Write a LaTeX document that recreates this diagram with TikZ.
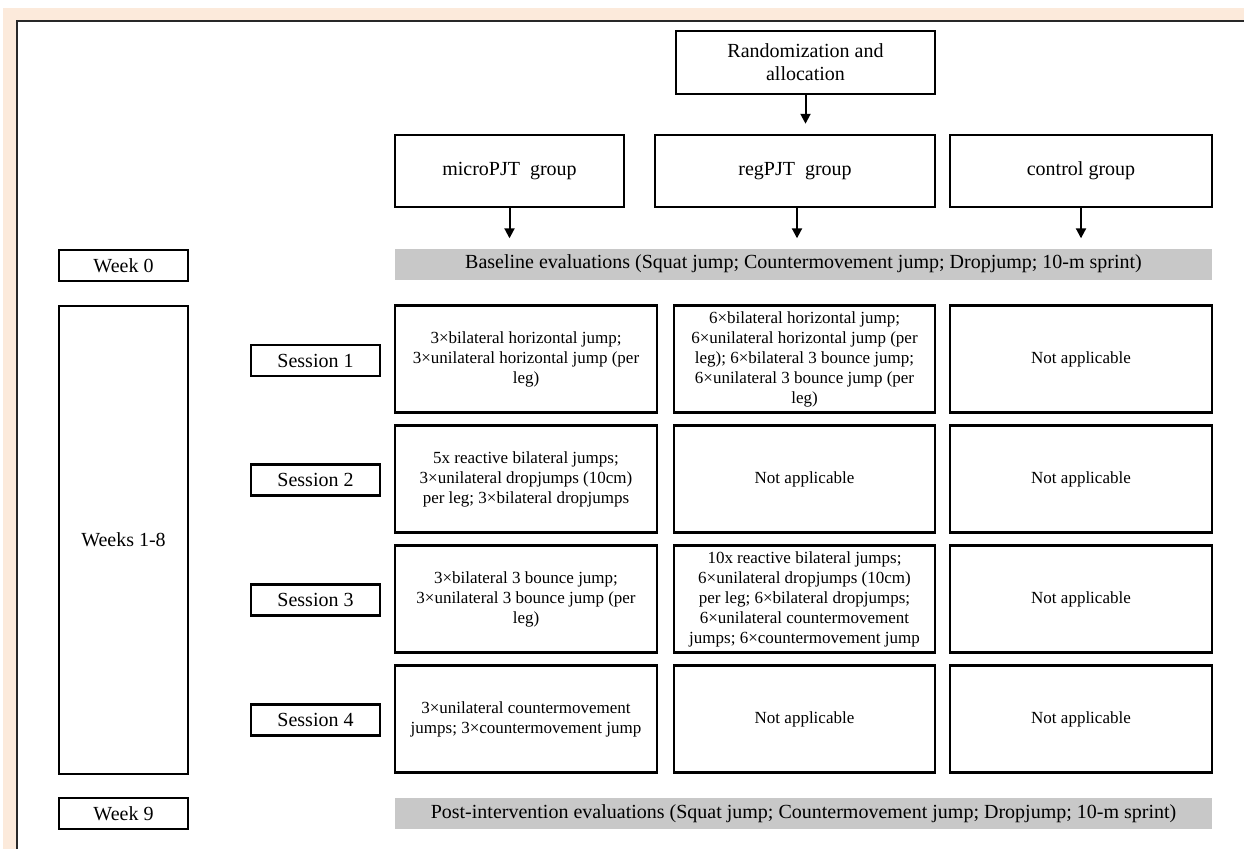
\documentclass[tikz,border=0pt]{standalone}
\usepackage{fontspec}
\setmainfont{Liberation Serif}
\usetikzlibrary{arrows.meta}
\definecolor{peach}{RGB}{252,234,219}
\definecolor{bargray}{RGB}{200,200,200}
\definecolor{framedark}{RGB}{40,40,40}
\tikzset{
  box/.style={draw=black, line width=2.5pt, fill=white, align=center, inner sep=0pt,
    font=\fontsize{20}{23}\selectfont},
  cbox/.style={box, minimum width=262pt, minimum height=107pt,
    font=\fontsize{17}{20}\selectfont},
  lbox/.style={box, minimum width=129pt, minimum height=31pt},
  gbox/.style={box, minimum width=229pt, minimum height=72pt},
  bar/.style={fill=bargray, draw=none, minimum width=817pt, minimum height=31pt, inner sep=0pt,
    font=\fontsize{20}{23}\selectfont},
  arr/.style={line width=2pt, -{Triangle[length=10pt,width=10pt]}, shorten >=10pt}
}
\begin{document}
\begin{tikzpicture}[x=1pt,y=-1pt]
\useasboundingbox (0,0) rectangle (1244,849);
\fill[white] (0,0) rectangle (1244,849);
\fill[peach] (3,8) rectangle (1244,849);
\fill[white] (17,21) rectangle (1244,849);
\draw[framedark, line width=1.2pt] (17,849) -- (17,21) -- (1244,21);

% top
\node[box, minimum width=259pt, minimum height=63pt] (rand) at (805.5,62.5) {Randomization and\\allocation};
\node[gbox] (micro) at (509.5,171) {microPJT\ \ group};
\node[gbox, minimum width=280pt] (reg) at (795,171) {regPJT\ \ group};
\node[gbox, minimum width=262pt] (ctrl) at (1081,171) {control group};

% week labels
\node[lbox] (w0) at (123.5,265.5) {Week 0};
\node[lbox, minimum height=468pt] (w18) at (123.5,540) {Weeks 1-8};
\node[lbox] (w9) at (123.5,813.5) {Week 9};

\node[bar] (base) at (803.5,264) {Baseline evaluations (Squat jump; Countermovement jump; Dropjump; 10-m sprint)};
\node[bar] (post) at (803.5,813.5) {Post-intervention evaluations (Squat jump; Countermovement jump; Dropjump; 10-m sprint)};

% sessions
\node[lbox] (s1) at (315.5,360.5) {Session 1};
\node[lbox] (s2) at (315.5,480) {Session 2};
\node[lbox] (s3) at (315.5,600) {Session 3};
\node[lbox] (s4) at (315.5,720) {Session 4};

% row 1
\node[cbox] (a1) at (526,359) {3×bilateral horizontal jump;\\3×unilateral horizontal jump (per\\leg)};
\node[cbox, minimum width=261pt] (b1) at (804.5,359) {6×bilateral horizontal jump;\\6×unilateral horizontal jump (per\\leg); 6×bilateral 3 bounce jump;\\6×unilateral 3 bounce jump (per\\leg)};
\node[cbox] (c1) at (1081,359) {Not applicable};
% row 2
\node[cbox] (a2) at (526,479) {5x reactive bilateral jumps;\\3×unilateral dropjumps (10cm)\\per leg; 3×bilateral dropjumps};
\node[cbox, minimum width=261pt] (b2) at (804.5,479) {Not applicable};
\node[cbox] (c2) at (1081,479) {Not applicable};
% row 3
\node[cbox] (a3) at (526,599) {3×bilateral 3 bounce jump;\\3×unilateral 3 bounce jump (per\\leg)};
\node[cbox, minimum width=261pt] (b3) at (804.5,599) {10x reactive bilateral jumps;\\6×unilateral dropjumps (10cm)\\per leg; 6×bilateral dropjumps;\\6×unilateral countermovement\\jumps; 6×countermovement jump};
\node[cbox] (c3) at (1081,599) {Not applicable};
% row 4
\node[cbox] (a4) at (526,719) {3×unilateral countermovement\\jumps; 3×countermovement jump};
\node[cbox, minimum width=261pt] (b4) at (804.5,719) {Not applicable};
\node[cbox] (c4) at (1081,719) {Not applicable};

% arrows
\draw[arr] (rand.south) -- (rand.south |- reg.north);
\draw[arr] (micro.south) -- (micro.south |- base.north);
\draw[arr] ([xshift=2pt]reg.south) -- ([xshift=2pt]reg.south |- base.north);
\draw[arr] (ctrl.south) -- (ctrl.south |- base.north);
\end{tikzpicture}
\end{document}
